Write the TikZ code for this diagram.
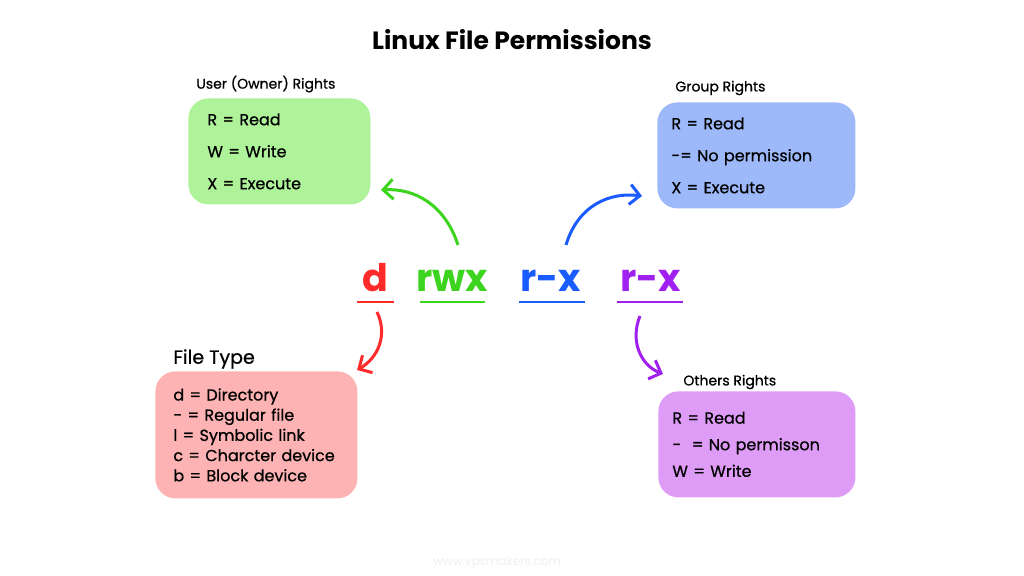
\documentclass[tikz,border=0pt]{standalone}
\usepackage{fontspec}
\setmainfont{Poppins}
\newfontfamily\medfont{Poppins}[FakeBold=0.7]
\usetikzlibrary{arrows.meta}
\definecolor{cRed}{HTML}{FF2A2A}
\definecolor{cGreen}{HTML}{3CD41E}
\definecolor{cBlue}{HTML}{1A5CFF}
\definecolor{cPurple}{HTML}{A020F0}
\definecolor{fGreen}{HTML}{AEF29A}
\definecolor{fBlue}{HTML}{9DB9FA}
\definecolor{fRed}{HTML}{FDB3B3}
\definecolor{fPurple}{HTML}{DF9CF7}
\tikzset{
  infobox/.style={rounded corners=10pt, inner ysep=0pt, align=left, anchor=north west},
  boxlabel/.style={anchor=west, inner sep=0pt, font=\medfont\fontsize{7}{8}\selectfont},
  perm/.style={anchor=base, inner sep=0pt, font=\fontsize{19}{20}\selectfont\bfseries},
  uline/.style={line width=1pt},
  curvearrow/.style={line width=1.5pt, -{Straight Barb[length=5pt,width=10pt]}},
}
\begin{document}
\begin{tikzpicture}[x=0.5pt,y=-0.5pt]
\useasboundingbox (0,0) rectangle (1024,576);
\fill[white] (0,0) rectangle (1024,576);

\node[inner sep=0pt, font=\fontsize{12.5}{15}\selectfont\bfseries] (title) at (512,40) {Linux File Permissions};

% Boxes
\node[infobox, fill=fGreen, minimum width=91pt, minimum height=53pt, text width=72pt, inner xsep=9.5pt,
      font=\medfont\fontsize{8}{16}\selectfont] (user) at (188,98) {R = Read\\W = Write\\X = Execute};
\node[boxlabel] (userlbl) at (196,84) {User (Owner) Rights};

\node[infobox, fill=fBlue, minimum width=99pt, minimum height=53pt, text width=85pt, inner xsep=7pt,
      font=\medfont\fontsize{8}{16}\selectfont] (group) at (657,102) {R = Read\\-= No permission\\X = Execute};
\node[boxlabel] (grouplbl) at (675,88) {Group Rights};

\node[infobox, fill=fRed, minimum width=101pt, minimum height=63.5pt, text width=83pt, inner xsep=9pt,
      font=\medfont\fontsize{8}{10.1}\selectfont] (ftype) at (155,371) {d = Directory\\- = Regular file\\l = Symbolic link\\c = Charcter device\\b = Block device};
\node[boxlabel, font=\medfont\fontsize{9.5}{10}\selectfont] (ftypelbl) at (173,359) {File Type};

\node[infobox, fill=fPurple, minimum width=98.5pt, minimum height=53pt, text width=84.5pt, inner xsep=7pt,
      font=\medfont\fontsize{8}{13.3}\selectfont] (others) at (658,391) {R = Read\\- \ = No permisson\\W = Write};
\node[boxlabel] (otherslbl) at (683,382) {Others Rights};

% Permission string
\node[perm, text=cRed] (d) at (375,292) {d};
\node[perm, text=cGreen] (rwx) at (452,292) {rwx};
\node[perm, text=cBlue] (grx) at (551,292) {r-x};
\node[perm, text=cPurple] (orx) at (651,292) {r-x};

\draw[uline, cRed] (357,302) -- (394,302);
\draw[uline, cGreen] (420,302) -- (485,302);
\draw[uline, cBlue] (519,302) -- (585,302);
\draw[uline, cPurple] (617,302) -- (683,302);

% Arrows
\coordinate (gs) at (458,245);
\coordinate (ge) at (381,190);
\draw[curvearrow, cGreen] (gs) .. controls (445,205) and (415,188) .. (ge);
\coordinate (bs) at (566,245);
\coordinate (be) at (642,196);
\draw[curvearrow, cBlue] (bs) .. controls (578,205) and (610,192) .. (be);
\coordinate (rs) at (377,312);
\coordinate (re) at (357,370);
\draw[curvearrow, cRed] (rs) .. controls (388,335) and (378,358) .. (re);
\coordinate (ps) at (640,316);
\coordinate (pe) at (663,374);
\draw[curvearrow, cPurple] (ps) .. controls (630,340) and (640,365) .. (pe);

\node[text=gray!12, font=\fontsize{6}{7}\selectfont] (wm) at (497,563) {www.vpsmakers.com};
\end{tikzpicture}
\end{document}
